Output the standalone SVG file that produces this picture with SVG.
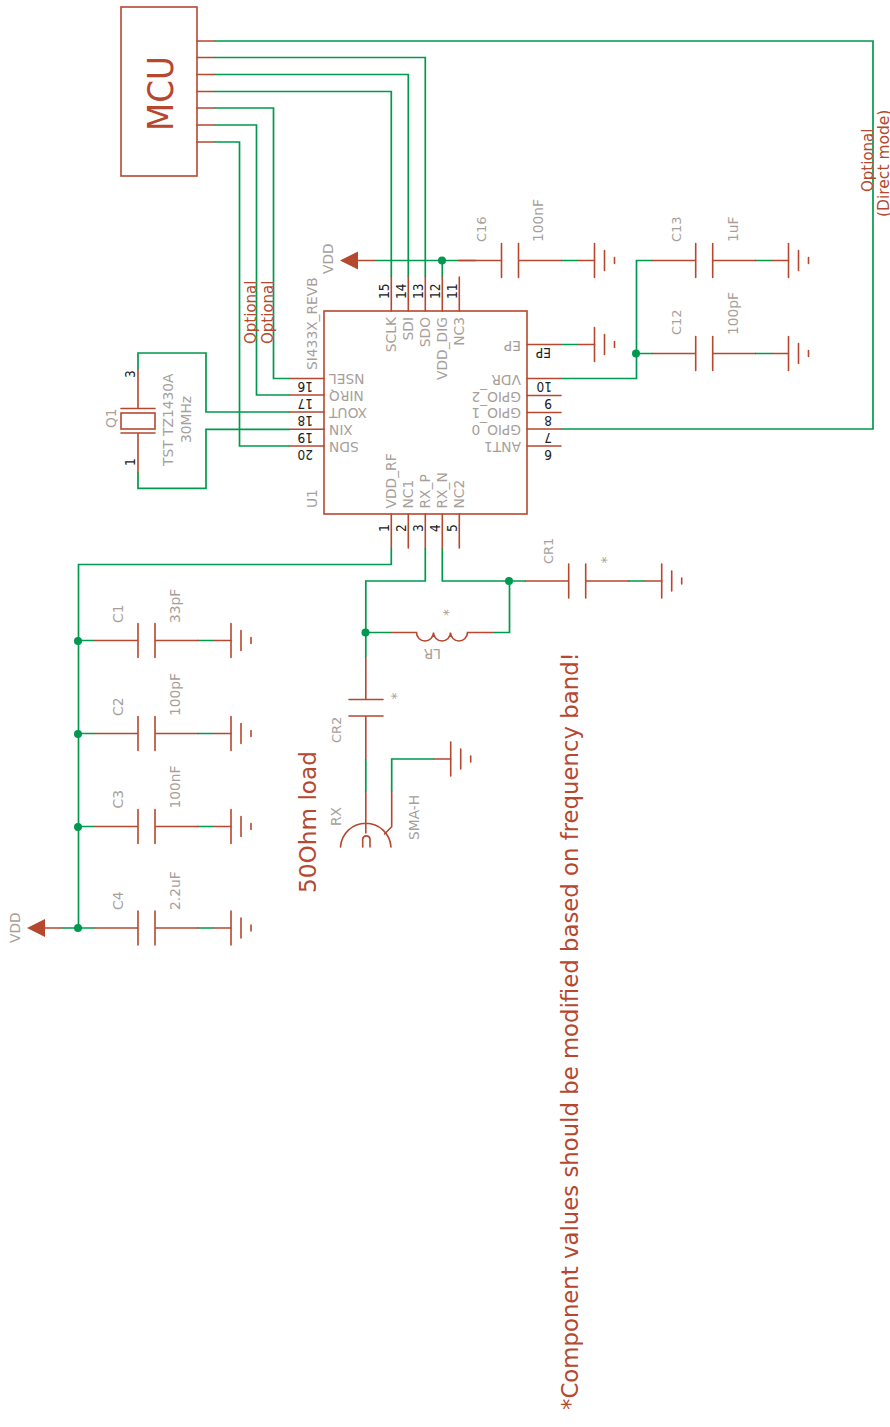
<svg xmlns="http://www.w3.org/2000/svg" width="890" height="1427" viewBox="0 0 890 1427">
<style>
.w{fill:none;stroke:#00994f;stroke-width:1.7;stroke-linejoin:miter}
.s{fill:none;stroke:#b5482f;stroke-width:1.6;stroke-linecap:round;stroke-linejoin:miter}
.d{fill:#00994f;stroke:none}
text{font-family:"DejaVu Sans","Liberation Sans",sans-serif}
.g{fill:#a89f9b;font-size:13.8px}
.n{font-size:13px}
.k{fill:#222;font-size:13.600px;font-family:"DejaVu Sans Condensed","DejaVu Sans",sans-serif;font-stretch:condensed}
.r{fill:#b5482f;font-size:15px}
.a{fill:#b5482f;stroke:none}
</style>
<defs>
<g id="gnd"><path class="s" d="M0-17V17M10-10V10M20-3V3"/></g>
<g id="cap"><path class="s" d="M-43 0H0M0-17V17M17-17V17M17 0H60"/></g>
<g id="vdd"><path class="a" d="M0 0L18-9V9Z"/></g>
</defs>

<g id="connectors">
<path class="w" d="M214 41H873V429H561"/>
<path class="w" d="M214 57.500H425.300V277"/>
<path class="w" d="M214 74.500H408.300V277"/>
<path class="w" d="M214 91.500H391.300V277"/>
<path class="w" d="M214 108H273.500V378.500H290"/>
<path class="w" d="M214 125H256.500V395H290"/>
<path class="w" d="M214 142H239.500V446H290"/>
<path class="w" d="M374.500 260.500H476M442.300 260.500V277"/>
<path class="w" d="M561 260.500H578M755 260.500H772M561 344.500H578M755 353.500H772"/>
<path class="w" d="M561 378.500H636.500V260.500H653M636.500 353.500H653"/>
<path class="w" d="M138 369.500V353H206V412H290"/>
<path class="w" d="M138 472V488.300H206V429.300H290"/>
<path class="w" d="M391.300 548V564.500H78.500V928H95M61.500 928H78.500M78.500 640.500H95M78.500 733.500H95M78.500 826.500H95"/>
<path class="w" d="M197.500 640.500H214M197.500 733.500H214M197.500 826.500H214M197.500 928H214"/>
<path class="w" d="M425.300 548V581H365.800V657M365.800 632.500H391.500"/>
<path class="w" d="M442.300 548V581H526M493 632.500H509.500V581M628 581H645"/>
<path class="w" d="M365.800 759V792M391.700 792V759H434"/>
<circle class="d" cx="442" cy="260.500" r="4"/>
<circle class="d" cx="636" cy="353.500" r="4"/>
<circle class="d" cx="509" cy="581" r="4"/>
<circle class="d" cx="365.500" cy="632.500" r="4"/>
<circle class="d" cx="78" cy="641" r="4"/>
<circle class="d" cx="78" cy="734" r="4"/>
<circle class="d" cx="78" cy="827" r="4"/>
<circle class="d" cx="78" cy="928" r="4"/>
</g>

<g id="mcu">
<rect class="s" x="121" y="7" width="76" height="169"/>
<path class="s" d="M197 41H214M197 57.500H214M197 74.500H214M197 91.500H214M197 108H214M197 125H214M197 142H214"/>
<text class="r" style="font-size:36px" textLength="75" lengthAdjust="spacingAndGlyphs" transform="translate(172.500 131) rotate(-90)">MCU</text>
</g>

<g id="u1">
<rect class="s" x="324" y="311" width="203" height="203"/>
<path class="s" d="M391.300 277V311M408.300 277V311M425.300 277V311M442.300 277V311M459.300 277V311"/>
<path class="s" d="M290 378.500H324M290 395H324M290 412H324M290 429.300H324M290 446H324"/>
<path class="s" d="M527 344.500H561M527 378.500H561M527 395.500H561M527 412.500H561M527 429H561M527 446H561"/>
<path class="s" d="M391.300 514V548M408.300 514V548M425.300 514V548M442.300 514V548M459.300 514V548"/>
<g class="k">
<text transform="translate(389 299) rotate(-90)">15</text>
<text transform="translate(406 299) rotate(-90)">14</text>
<text transform="translate(423 299) rotate(-90)">13</text>
<text transform="translate(440 299) rotate(-90)">12</text>
<text transform="translate(457 299) rotate(-90)">11</text>
<text transform="translate(389 532) rotate(-90)">1</text>
<text transform="translate(406 532) rotate(-90)">2</text>
<text transform="translate(423 532) rotate(-90)">3</text>
<text transform="translate(440 532) rotate(-90)">4</text>
<text transform="translate(457 532) rotate(-90)">5</text>
<text transform="translate(313 382) rotate(180)">16</text>
<text transform="translate(313 399) rotate(180)">17</text>
<text transform="translate(313 416) rotate(180)">18</text>
<text transform="translate(313 433) rotate(180)">19</text>
<text transform="translate(313 450) rotate(180)">20</text>
<text transform="translate(552 382) rotate(180)">10</text>
<text transform="translate(552 399) rotate(180)">9</text>
<text transform="translate(552 416) rotate(180)">8</text>
<text transform="translate(552 433) rotate(180)">7</text>
<text transform="translate(552 450) rotate(180)">6</text>
<text transform="translate(551 348) rotate(180)">EP</text>
</g>
<g class="g">
<text text-anchor="end" transform="translate(396.300 317) rotate(-90)">SCLK</text>
<text text-anchor="end" transform="translate(413.300 317) rotate(-90)">SDI</text>
<text text-anchor="end" transform="translate(430.300 317) rotate(-90)">SDO</text>
<text text-anchor="end" transform="translate(447.300 317) rotate(-90)">VDD_DIG</text>
<text text-anchor="end" transform="translate(464.300 317) rotate(-90)">NC3</text>
<text transform="translate(396.300 508.500) rotate(-90)">VDD_RF</text>
<text transform="translate(413.300 508.500) rotate(-90)">NC1</text>
<text transform="translate(430.300 508.500) rotate(-90)">RX_P</text>
<text transform="translate(447.300 508.500) rotate(-90)">RX_N</text>
<text transform="translate(464.300 508.500) rotate(-90)">NC2</text>
<text text-anchor="end" transform="translate(329 374) rotate(180)">NSEL</text>
<text text-anchor="end" transform="translate(329 391) rotate(180)">NIRQ</text>
<text text-anchor="end" transform="translate(329 408) rotate(180)">XOUT</text>
<text text-anchor="end" transform="translate(329 425) rotate(180)">XIN</text>
<text text-anchor="end" transform="translate(329 442) rotate(180)">SDN</text>
<text transform="translate(521 340.500) rotate(180)">EP</text>
<text transform="translate(521 374.500) rotate(180)">VDR</text>
<text transform="translate(521 391.500) rotate(180)">GPIO_2</text>
<text transform="translate(521 408) rotate(180)">GPIO_1</text>
<text transform="translate(521 425) rotate(180)">GPIO_0</text>
<text transform="translate(521 442) rotate(180)">ANT1</text>
<text transform="translate(316.700 370) rotate(-90)">SI433X_REVB</text>
<text transform="translate(317 508) rotate(-90)">U1</text>
</g>
</g>

<g id="vdd-top">
<use href="#vdd" x="340" y="260.500"/>
<path class="s" d="M358 260.500H374.500"/>
<text class="g" transform="translate(333 274) rotate(-90)">VDD</text>
</g>
<g id="c16">
<use href="#cap" x="501.500" y="260.500"/>
<text class="g n" transform="translate(486 242) rotate(-90)">C16</text>
<text class="g" transform="translate(543 242) rotate(-90)">100nF</text>
</g>
<g id="gnd-c16"><path class="s" d="M578 260.500H594.500"/><use href="#gnd" x="594.500" y="260.500"/></g>
<g id="gnd-ep"><path class="s" d="M578 344.500H594.500"/><use href="#gnd" x="594.500" y="344.500"/></g>
<g id="c13">
<use href="#cap" x="695.700" y="260.500"/>
<text class="g n" transform="translate(680.700 242) rotate(-90)">C13</text>
<text class="g" transform="translate(738 242) rotate(-90)">1uF</text>
</g>
<g id="gnd-c13"><path class="s" d="M772 260.500H788.500"/><use href="#gnd" x="788.500" y="260.500"/></g>
<g id="c12">
<use href="#cap" x="695.700" y="353.500"/>
<text class="g n" transform="translate(680.700 335) rotate(-90)">C12</text>
<text class="g" transform="translate(738 335) rotate(-90)">100pF</text>
</g>
<g id="gnd-c12"><path class="s" d="M772 353.500H788.500"/><use href="#gnd" x="788.500" y="353.500"/></g>

<g id="q1">
<path class="s" d="M138 369.500V408.500M121 408.500H155M121 433H155M138 433V472"/>
<rect class="s" x="121" y="413" width="34" height="16"/>
<text class="g" transform="translate(116 428) rotate(-90)">Q1</text>
<text class="k" transform="translate(135 378) rotate(-90)">3</text>
<text class="k" transform="translate(135 466) rotate(-90)">1</text>
<text class="g" transform="translate(173 466) rotate(-90)">TST TZ1430A</text>
<text class="g" transform="translate(190.700 443) rotate(-90)">30MHz</text>
</g>

<g id="c1">
<use href="#cap" x="138" y="640.500"/>
<path class="s" d="M214 640.500H231"/><use href="#gnd" x="231" y="640.500"/>
<text class="g" transform="translate(123.300 623) rotate(-90)">C1</text>
<text class="g" transform="translate(180.300 623) rotate(-90)">33pF</text>
</g>
<g id="c2">
<use href="#cap" x="138" y="733.500"/>
<path class="s" d="M214 733.500H231"/><use href="#gnd" x="231" y="733.500"/>
<text class="g" transform="translate(123.300 716) rotate(-90)">C2</text>
<text class="g" transform="translate(180.300 716) rotate(-90)">100pF</text>
</g>
<g id="c3">
<use href="#cap" x="138" y="826.500"/>
<path class="s" d="M214 826.500H231"/><use href="#gnd" x="231" y="826.500"/>
<text class="g" transform="translate(123.300 808.500) rotate(-90)">C3</text>
<text class="g" transform="translate(180.300 808.500) rotate(-90)">100nF</text>
</g>
<g id="c4">
<use href="#cap" x="138" y="928"/>
<path class="s" d="M214 928H231"/><use href="#gnd" x="231" y="928"/>
<text class="g" transform="translate(123.300 910) rotate(-90)">C4</text>
<text class="g" transform="translate(180.300 910) rotate(-90)">2.2uF</text>
</g>
<g id="vdd-left">
<use href="#vdd" x="27" y="928"/>
<path class="s" d="M45 928H61.500"/>
<text class="g" transform="translate(20 943) rotate(-90)">VDD</text>
</g>

<g id="cr1">
<use href="#cap" x="568.700" y="581"/>
<path class="s" d="M645 581H661.700"/><use href="#gnd" x="661.700" y="581"/>
<text class="g n" transform="translate(553 564) rotate(-90)">CR1</text>
<text class="g" transform="translate(611 563.500) rotate(-90)">*</text>
</g>
<g id="lr">
<path class="s" d="M391.500 632.500H416.500A8.500 8.500 0 0 0 433.500 632.500A8.500 8.500 0 0 0 450.500 632.500A8.500 8.500 0 0 0 467.500 632.500H493"/>
<text class="g" transform="translate(441 649) rotate(180)">LR</text>
<text class="g" transform="translate(452.500 616) rotate(-90)">*</text>
</g>
<g id="cr2">
<path class="s" d="M365.800 657V699.500M349 699.500H383M349 716H383M365.800 716V759"/>
<text class="g n" transform="translate(340.700 743) rotate(-90)">CR2</text>
<text class="g" transform="translate(401 699.500) rotate(-90)">*</text>
</g>
<g id="gnd-sma"><path class="s" d="M434 759H450.700"/><use href="#gnd" x="450.700" y="759"/></g>
<g id="rx">
<path class="s" d="M365.800 792V833M340.500 847A25.300 25.300 0 0 1 391 847M391.700 792V826.700L384.500 834M362.700 847V839A3.700 3.700 0 0 1 370 839V847"/>
<text class="g" transform="translate(340.700 826) rotate(-90)">RX</text>
<text class="g" transform="translate(418.700 840) rotate(-90)">SMA-H</text>
</g>

<g id="notes">
<text class="r" transform="translate(255.700 344) rotate(-90)">Optional</text>
<text class="r" transform="translate(273 344) rotate(-90)">Optional</text>
<text class="r" transform="translate(872.700 192) rotate(-90)">Optional</text>
<text class="r" style="font-size:15.500px" transform="translate(888.500 217) rotate(-90)">(Direct mode)</text>
<text class="r" style="font-size:23.200px" transform="translate(316 893) rotate(-90)">50Ohm load</text>
<text class="r" style="font-size:22.800px" transform="translate(578 1410) rotate(-90)">*Component values should be modified based on frequency band!</text>
</g>
</svg>
